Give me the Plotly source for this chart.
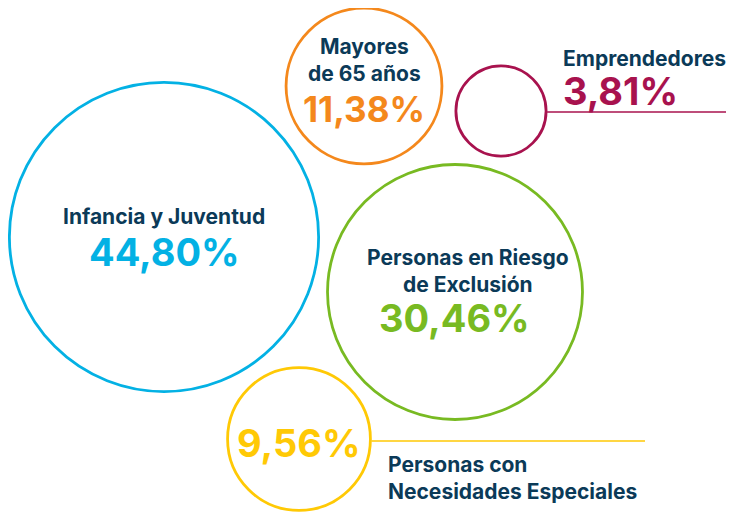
import math
import plotly.graph_objects as go

# ---- data ----
categories = ["Infancia y Juventud", "Personas en Riesgo de Exclusión", "Mayores de 65 años",
              "Personas con Necesidades Especiales", "Emprendedores"]
values = [44.80, 30.46, 11.38, 9.56, 3.81]
value_labels = ["44,80%", "30,46%", "11,38%", "9,56%", "3,81%"]
name_labels = ["Infancia y Juventud", "Personas en Riesgo<br>de Exclusión", "Mayores<br>de 65 años",
               "Personas con<br>Necesidades Especiales", "Emprendedores"]

# ---- layout (page pixel space; body has an 8px margin) ----
W, H = 734, 513
OFF = 8
centers_x = [164, 455, 364, 299, 501]
centers_y = [237, 292, 86, 439, 111]
colors = ["#03B1E4", "#78BA22", "#F4881C", "#FFC905", "#A8124E"]
navy = "#0B3A58"
K = 23.1  # px radius per sqrt(value)
radii = [K * math.sqrt(v) for v in values]

fig = go.Figure()
fig.add_trace(go.Scatter(
    x=centers_x, y=centers_y, mode="markers",
    marker=dict(size=[2 * r for r in radii], sizemode="diameter", opacity=1,
                color="rgba(0,0,0,0)", line=dict(color=colors, width=2.8)),
    hoverinfo="text", text=[f"{c}: {l}" for c, l in zip(categories, value_labels)],
    showlegend=False,
))

font_family = "Inter, Lato, sans-serif"
ann = []

def add(x, y, text, size, color, xanchor="center"):
    ann.append(dict(x=x, y=y, xref="x", yref="y", text=f"<b>{text}</b>", showarrow=False,
                    xanchor=xanchor, yanchor="middle", align="left" if xanchor == "left" else "center",
                    font=dict(family=font_family, size=size, color=color)))

NS = 21
VS = 38
# Infancia y Juventud
add(centers_x[0], 216, name_labels[0], NS, navy)
add(centers_x[0], 252, value_labels[0], VS, colors[0])
# Personas en Riesgo
add(468, 271, name_labels[1], NS, navy)
add(454, 318, value_labels[1], VS, colors[1])
# Mayores
add(centers_x[2], 60, name_labels[2], NS, navy)
add(centers_x[2], 109, value_labels[2], 35, colors[2])
# Necesidades especiales
add(centers_x[3], 443, value_labels[3], VS, colors[3])
add(386, 478, name_labels[3], NS, navy, xanchor="left")
# Emprendedores
add(561, 58, name_labels[4], NS, navy, xanchor="left")
add(561, 91, value_labels[4], VS, colors[4], xanchor="left")

shapes = [
    dict(type="line", xref="x", yref="y", x0=centers_x[4] + radii[4] + 1, x1=730,
         y0=centers_y[4] + 1, y1=centers_y[4] + 1, line=dict(color=colors[4], width=1.6)),
    dict(type="line", xref="x", yref="y", x0=centers_x[3] + radii[3] + 1, x1=645,
         y0=centers_y[3] + 2, y1=centers_y[3] + 2, line=dict(color=colors[3], width=1.6)),
]

fig.update_layout(
    width=W - OFF, height=H - OFF, margin=dict(l=0, r=0, t=0, b=0),
    paper_bgcolor="white", plot_bgcolor="white",
    xaxis=dict(range=[OFF, W], visible=False, fixedrange=True),
    yaxis=dict(range=[H, OFF], visible=False, fixedrange=True),
    annotations=ann, shapes=shapes,
)
fig.write_html("out.html")
